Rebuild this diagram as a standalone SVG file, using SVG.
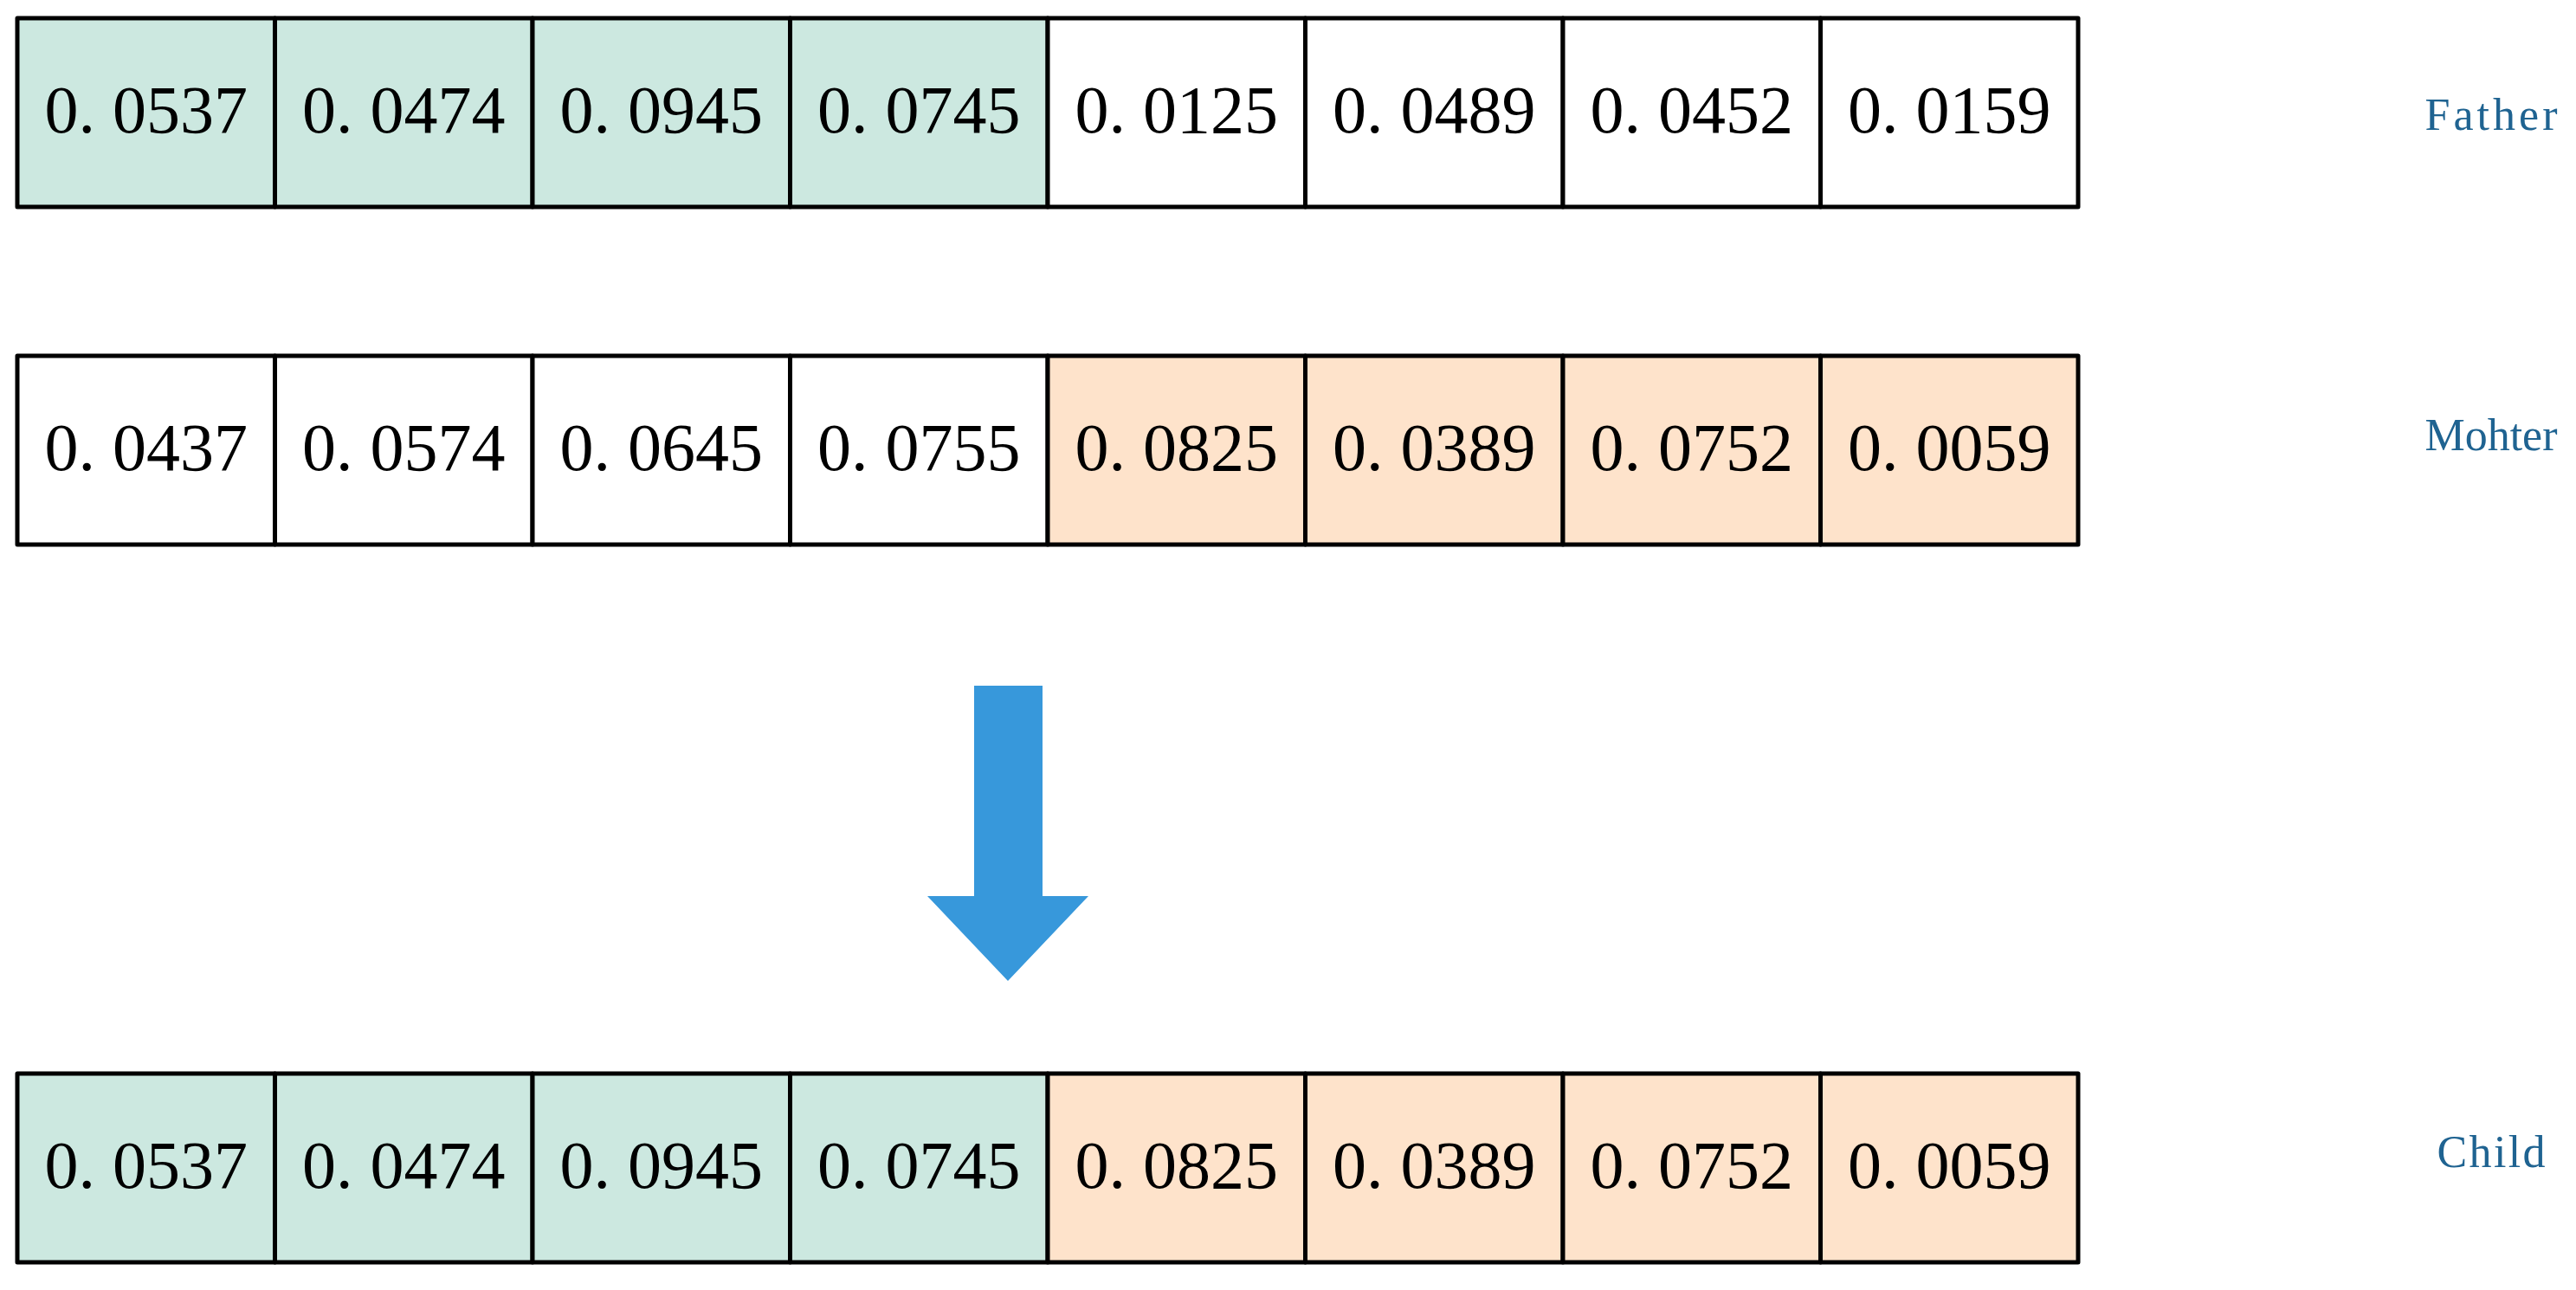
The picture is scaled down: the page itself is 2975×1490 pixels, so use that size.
<svg xmlns="http://www.w3.org/2000/svg" width="2975" height="1490" viewBox="0 0 2975 1490">
<style>
.c{stroke:#000;stroke-width:5;stroke-linejoin:round}
.g{fill:#cce8e0}
.o{fill:#fee3cb}
.w{fill:#fff}
.v{font-family:"Liberation Serif","DejaVu Serif",serif;font-size:78px;fill:#000;text-anchor:middle}
.lab{font-family:"Liberation Serif","DejaVu Serif",serif;font-size:52px;fill:#1f6391;text-anchor:middle}
</style>
<rect width="2975" height="1490" fill="#fff"/>
<g id="father">
<g id="f1"><rect class="c g" x="20" y="21" width="297.5" height="218"/><text class="v" x="168.75" y="153">0.<tspan dx="20">0537</tspan></text></g>
<g id="f2"><rect class="c g" x="317.5" y="21" width="297.5" height="218"/><text class="v" x="466.25" y="153">0.<tspan dx="20">0474</tspan></text></g>
<g id="f3"><rect class="c g" x="615" y="21" width="297.5" height="218"/><text class="v" x="763.75" y="153">0.<tspan dx="20">0945</tspan></text></g>
<g id="f4"><rect class="c g" x="912.5" y="21" width="297.5" height="218"/><text class="v" x="1061.25" y="153">0.<tspan dx="20">0745</tspan></text></g>
<g id="f5"><rect class="c w" x="1210" y="21" width="297.5" height="218"/><text class="v" x="1358.75" y="153">0.<tspan dx="20">0125</tspan></text></g>
<g id="f6"><rect class="c w" x="1507.5" y="21" width="297.5" height="218"/><text class="v" x="1656.25" y="153">0.<tspan dx="20">0489</tspan></text></g>
<g id="f7"><rect class="c w" x="1805" y="21" width="297.5" height="218"/><text class="v" x="1953.75" y="153">0.<tspan dx="20">0452</tspan></text></g>
<g id="f8"><rect class="c w" x="2102.5" y="21" width="297.5" height="218"/><text class="v" x="2251.25" y="153">0.<tspan dx="20">0159</tspan></text></g>
</g>
<g id="mother">
<g id="m1"><rect class="c w" x="20" y="411" width="297.5" height="218"/><text class="v" x="168.75" y="543">0.<tspan dx="20">0437</tspan></text></g>
<g id="m2"><rect class="c w" x="317.5" y="411" width="297.5" height="218"/><text class="v" x="466.25" y="543">0.<tspan dx="20">0574</tspan></text></g>
<g id="m3"><rect class="c w" x="615" y="411" width="297.5" height="218"/><text class="v" x="763.75" y="543">0.<tspan dx="20">0645</tspan></text></g>
<g id="m4"><rect class="c w" x="912.5" y="411" width="297.5" height="218"/><text class="v" x="1061.25" y="543">0.<tspan dx="20">0755</tspan></text></g>
<g id="m5"><rect class="c o" x="1210" y="411" width="297.5" height="218"/><text class="v" x="1358.75" y="543">0.<tspan dx="20">0825</tspan></text></g>
<g id="m6"><rect class="c o" x="1507.5" y="411" width="297.5" height="218"/><text class="v" x="1656.25" y="543">0.<tspan dx="20">0389</tspan></text></g>
<g id="m7"><rect class="c o" x="1805" y="411" width="297.5" height="218"/><text class="v" x="1953.75" y="543">0.<tspan dx="20">0752</tspan></text></g>
<g id="m8"><rect class="c o" x="2102.5" y="411" width="297.5" height="218"/><text class="v" x="2251.25" y="543">0.<tspan dx="20">0059</tspan></text></g>
</g>
<g id="child">
<g id="c1"><rect class="c g" x="20" y="1240" width="297.5" height="218"/><text class="v" x="168.75" y="1372">0.<tspan dx="20">0537</tspan></text></g>
<g id="c2"><rect class="c g" x="317.5" y="1240" width="297.5" height="218"/><text class="v" x="466.25" y="1372">0.<tspan dx="20">0474</tspan></text></g>
<g id="c3"><rect class="c g" x="615" y="1240" width="297.5" height="218"/><text class="v" x="763.75" y="1372">0.<tspan dx="20">0945</tspan></text></g>
<g id="c4"><rect class="c g" x="912.5" y="1240" width="297.5" height="218"/><text class="v" x="1061.25" y="1372">0.<tspan dx="20">0745</tspan></text></g>
<g id="c5"><rect class="c o" x="1210" y="1240" width="297.5" height="218"/><text class="v" x="1358.75" y="1372">0.<tspan dx="20">0825</tspan></text></g>
<g id="c6"><rect class="c o" x="1507.5" y="1240" width="297.5" height="218"/><text class="v" x="1656.25" y="1372">0.<tspan dx="20">0389</tspan></text></g>
<g id="c7"><rect class="c o" x="1805" y="1240" width="297.5" height="218"/><text class="v" x="1953.75" y="1372">0.<tspan dx="20">0752</tspan></text></g>
<g id="c8"><rect class="c o" x="2102.5" y="1240" width="297.5" height="218"/><text class="v" x="2251.25" y="1372">0.<tspan dx="20">0059</tspan></text></g>
</g>
<g id="labels">
<text class="lab" x="2877" y="150" textLength="153" lengthAdjust="spacing">Father</text>
<text class="lab" x="2877" y="520" textLength="153" lengthAdjust="spacing">Mohter</text>
<text class="lab" x="2877" y="1348" textLength="125" lengthAdjust="spacing">Child</text>
</g>
<g id="connectors">
<path d="M1125,792 L1204,792 L1204,1035 L1257,1035 L1164,1133 L1071,1035 L1125,1035 Z" fill="#3798db"/>
</g>
</svg>
